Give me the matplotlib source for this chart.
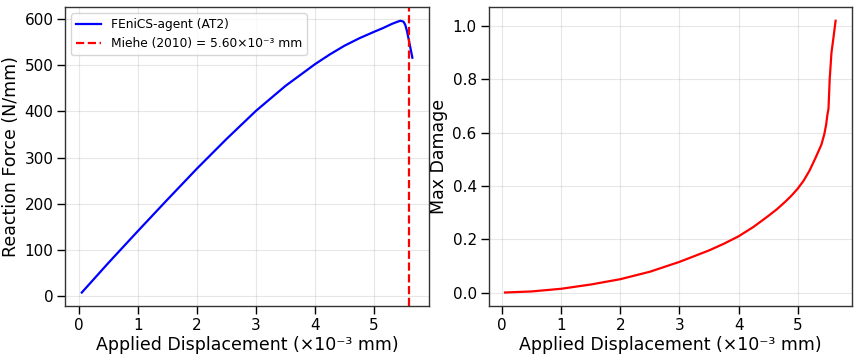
import matplotlib.pyplot as plt

# Reaction force vs applied displacement (x1e-3 mm)
disp_force = [0.05, 0.5, 1.0, 1.5, 2.0, 2.5, 3.0, 3.5, 4.0, 4.25, 4.5, 4.75, 5.0, 5.15, 5.3, 5.4, 5.45, 5.5, 5.53, 5.56, 5.6, 5.65]
force = [8, 72, 141, 209, 276, 340, 401, 455, 502, 523, 542, 558, 572, 580, 589, 594, 596, 594, 587, 573, 548, 516]

# Max damage vs applied displacement
disp_damage = [0.05, 0.5, 1.0, 1.5, 2.0, 2.5, 3.0, 3.5, 3.75, 4.0, 4.25, 4.5, 4.65, 4.8, 4.9, 5.0, 5.1, 5.2, 5.3, 5.4, 5.45, 5.48, 5.5, 5.52, 5.54, 5.57, 5.6, 5.64]
damage = [0.0, 0.004, 0.014, 0.03, 0.05, 0.078, 0.115, 0.158, 0.183, 0.211, 0.246, 0.287, 0.313, 0.343, 0.365, 0.39, 0.42, 0.458, 0.505, 0.555, 0.595, 0.63, 0.665, 0.69, 0.80, 0.90, 0.95, 1.02]

miehe_disp = 5.60

plt.rcParams['axes.edgecolor'] = '#333333'
plt.rcParams['axes.linewidth'] = 1.0

fig, (ax1, ax2) = plt.subplots(1, 2, figsize=(8.59, 3.58), dpi=100)

ax1.plot(disp_force, force, color='blue', lw=1.6, label='FEniCS-agent (AT2)')
ax1.axvline(miehe_disp, color='red', ls='--', lw=1.6,
            label='Miehe (2010) = 5.60×10⁻³ mm')
ax1.set_xlabel('Applied Displacement (×10⁻³ mm)', fontsize=12.5, labelpad=2)
ax1.set_ylabel('Reaction Force (N/mm)', fontsize=12.5, labelpad=3)
ax1.legend(loc='upper left', fontsize=8.8)

ax2.plot(disp_damage, damage, color='red', lw=1.6)
ax2.set_xlabel('Applied Displacement (×10⁻³ mm)', fontsize=12.5, labelpad=2)
ax2.set_ylabel('Max Damage', fontsize=12.5, labelpad=3)

for ax in (ax1, ax2):
    ax.grid(True, alpha=0.3)
    ax.tick_params(labelsize=11, length=6, width=1, pad=2.5)

plt.subplots_adjust(left=0.076, right=0.992, top=0.98, bottom=0.145, wspace=0.164)
plt.savefig('out.png')
